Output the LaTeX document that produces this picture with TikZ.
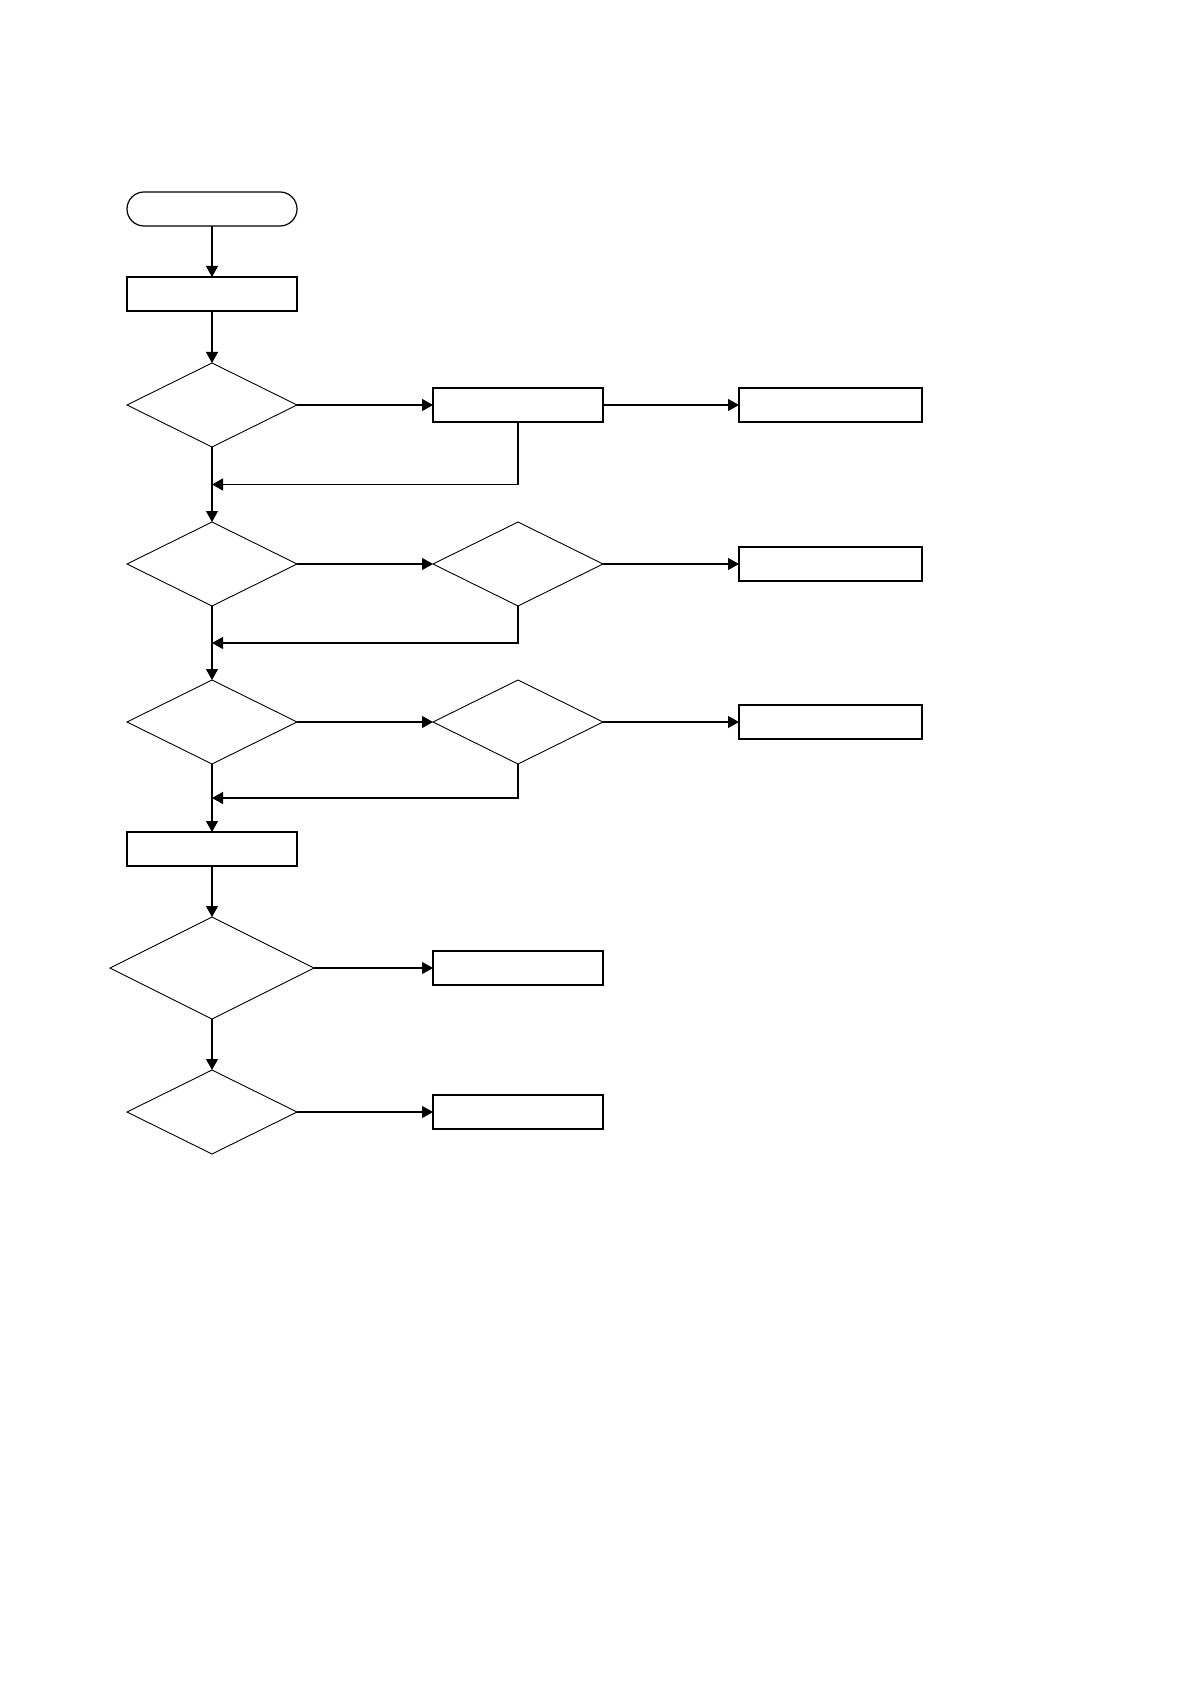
\documentclass[tikz,border=0pt]{standalone}
\usepackage{tikz}
\usetikzlibrary{arrows.meta,positioning,shapes.geometric,calc}

\begin{document}
\begin{tikzpicture}[x=0.5pt, y=-0.5pt,
  term/.style={draw, rounded corners=8.5pt, minimum width=85pt, minimum height=17pt, inner sep=0pt, outer sep=0pt, line width=0.6pt},
  box/.style={draw, minimum width=85pt, minimum height=17pt, inner sep=0pt, outer sep=0pt, line width=0.6pt},
  wbox/.style={box, minimum width=91.5pt},
  dec/.style={draw, diamond, minimum width=85pt, minimum height=42pt, inner sep=0pt, outer sep=0pt, line width=0.45pt},
  bigdec/.style={dec, minimum width=102pt, minimum height=51pt},
  arr/.style={-{Triangle[length=5.5pt, width=6pt]}, line width=0.6pt}]
\useasboundingbox (0,0) rectangle (1190,1684);
\node[term] (start) at (212,209) {};
\node[box, below=25.5pt of start] (init) {};
\node[dec, below=26pt of init] (chk1) {};
\node[box, right=68pt of chk1] (act1) {};
\node[wbox, right=68pt of act1] (out1) {};
\node[dec, below=37.5pt of chk1] (chk2) {};
\node[dec, right=68pt of chk2] (sub2) {};
\node[wbox, right=68pt of sub2] (out2) {};
\node[dec, below=37pt of chk2] (chk3) {};
\node[dec, right=68pt of chk3] (sub3) {};
\node[wbox, right=68pt of sub3] (out3) {};
\node[box, below=34pt of chk3] (proc) {};
\node[bigdec, below=25.5pt of proc] (chk4) {};
\node[box, right=59.5pt of chk4] (out4) {};
\node[dec, below=25.5pt of chk4] (chk5) {};
\node[box, right=68pt of chk5] (out5) {};
% return points on the main line
\coordinate (ret1) at ($(chk1.south)!0.5!(chk2.north)$);
\coordinate (ret2) at ($(chk2.south)!0.5!(chk3.north)$);
\coordinate (ret3) at ($(chk3.south)!0.5!(proc.north)$);
\draw[arr] (start) -- (init);
\draw[arr] (init) -- (chk1);
\draw[arr] (chk1) -- (act1);
\draw[arr] (act1) -- (out1);
\draw[arr] (act1.south) |- (ret1);
\draw[arr] (chk1) -- (chk2);
\draw[arr] (chk2) -- (sub2);
\draw[arr] (sub2) -- (out2);
\draw[arr] (sub2.south) |- (ret2);
\draw[arr] (chk2) -- (chk3);
\draw[arr] (chk3) -- (sub3);
\draw[arr] (sub3) -- (out3);
\draw[arr] (sub3.south) |- (ret3);
\draw[arr] (chk3) -- (proc);
\draw[arr] (proc) -- (chk4);
\draw[arr] (chk4) -- (out4);
\draw[arr] (chk4) -- (chk5);
\draw[arr] (chk5) -- (out5);
\end{tikzpicture}
\end{document}
